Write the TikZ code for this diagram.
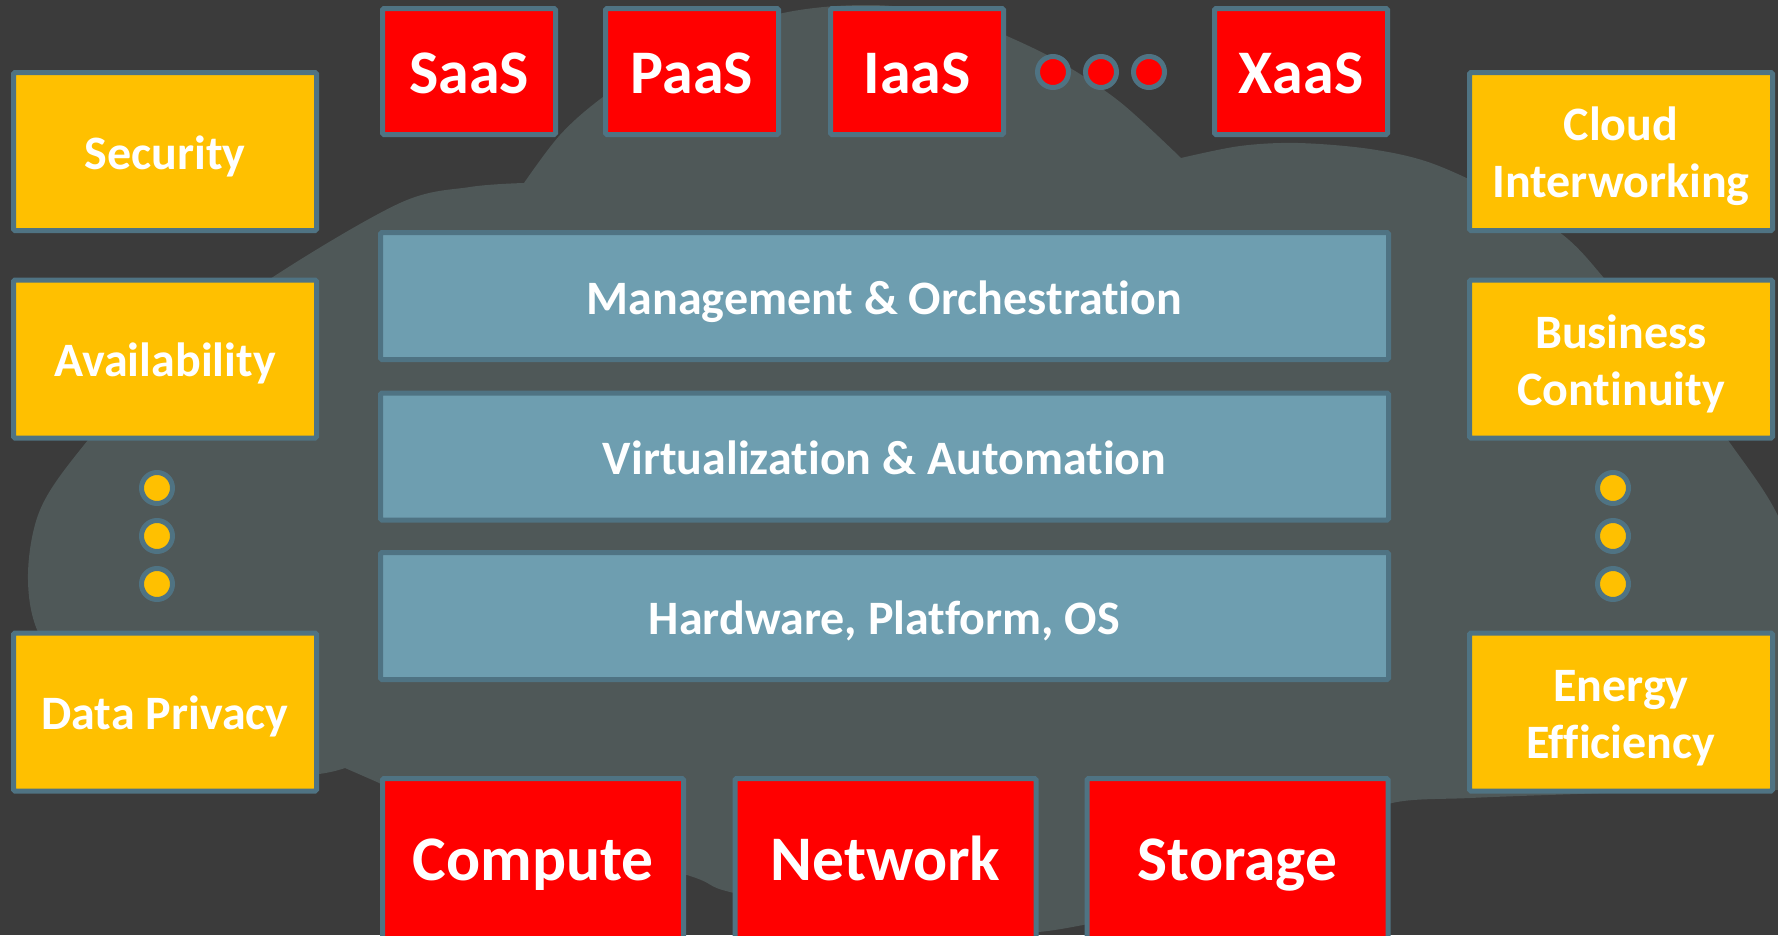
\documentclass[tikz,border=0pt]{standalone}
\usepackage{fontspec}
\setmainfont{Carlito}[Ligatures=NoCommon]
\definecolor{bg}{HTML}{3B3B3B}
\definecolor{cloudc}{HTML}{4F5858}
\definecolor{edge}{HTML}{4F7383}
\definecolor{layer}{HTML}{6E9EB0}
\definecolor{gold}{HTML}{FFC000}
\definecolor{redbox}{HTML}{FF0000}
\begin{document}
\begin{tikzpicture}[x=1pt,y=-1pt,
  box/.style={draw=edge, line width=5pt, rounded corners=1.5pt, inner sep=0pt,
    text=white, align=center, text depth=0pt},
  topbox/.style={box, fill=redbox, minimum width=173pt, minimum height=126pt,
    text height=43.5pt, font=\fontsize{62}{74}\selectfont\bfseries},
  sidebox/.style={box, fill=gold, minimum width=303pt, minimum height=158pt,
    text height=35pt, font=\fontsize{48}{57}\selectfont\bfseries},
  twoline/.style={text height=92pt},
  layerbox/.style={box, fill=layer, minimum width=1008pt, minimum height=127pt,
    text height=36.5pt, font=\fontsize{48}{57}\selectfont\bfseries},
  basebox/.style={box, fill=redbox, minimum width=301pt, minimum height=171.5pt,
    text height=46pt, text depth=14.5pt, font=\fontsize{63.5}{76}\selectfont\bfseries},
  dot/.style={circle, draw=edge, line width=5pt, minimum size=31pt, inner sep=0pt}]

\useasboundingbox (0,0) rectangle (1778,935);
\clip (0,0) rectangle (1778,935);
\fill[bg] (0,0) rectangle (1778,935);

% cloud silhouette behind the stack
\fill[cloudc]
  plot[smooth, tension=0.55] coordinates {(524,183) (560,135) (603,97) (680,45)
    (783,13) (870,5) (950,14) (1000,33) (1060,62) (1120,102) (1181,158)}
  -- plot[smooth, tension=0.55] coordinates {(1181,158) (1240,146) (1298,143)
    (1370,149) (1431,163) (1500,195) (1563,235) (1603,277) (1660,350)
    (1730,443) (1778,516) (1805,600)}
  -- (1810,790)
  -- plot[smooth, tension=0.55] coordinates {(1810,790) (1700,790) (1577,794)
    (1470,798) (1392,803) (1330,830) (1200,895) (1083,925) (1000,933)
    (860,918) (730,892) (687,875) (530,830) (400,792) (377,782) (345,768)}
  -- plot[smooth, tension=0.55] coordinates {(345,768) (319,774) (250,780)
    (150,745) (80,690) (38,632) (28,574) (40,510) (80,450) (160,360)
    (273,277) (400,203) (470,187) (524,183)}
  -- cycle;

% service models
\node[topbox] (saas) at (469,71.5) {SaaS};
\node[topbox] (paas) at (692,71.5) {PaaS};
\node[topbox] (iaas) at (917,71.5) {IaaS};
\node[dot, fill=redbox] (td1) at (1053,72) {};
\node[dot, fill=redbox] (td2) at (1101,72) {};
\node[dot, fill=redbox] (td3) at (1149,72) {};
\node[topbox] (xaas) at (1301,71.5) {XaaS};

% cross-cutting concerns, left
\node[sidebox] (security) at (165,151.5) {Security};
\node[sidebox] (avail) at (165,359) {Availability};
\node[dot, fill=gold] (ld1) at (157,488) {};
\node[dot, fill=gold] (ld2) at (157,536) {};
\node[dot, fill=gold] (ld3) at (157,584) {};
\node[sidebox] (privacy) at (165,712) {Data Privacy};

% cross-cutting concerns, right
\node[sidebox, twoline] (interwork) at (1621,151.5) {Cloud\\Interworking};
\node[sidebox, twoline] (continuity) at (1621,359) {Business\\Continuity};
\node[dot, fill=gold] (rd1) at (1613,488) {};
\node[dot, fill=gold] (rd2) at (1613,536) {};
\node[dot, fill=gold] (rd3) at (1613,584) {};
\node[sidebox, twoline] (energy) at (1621,712) {Energy\\Efficiency};

% layered stack
\node[layerbox] (mgmt) at (884.5,296) {Management \& Orchestration};
\node[layerbox] (virt) at (884.5,456.5) {Virtualization \& Automation};
\node[layerbox] (hw) at (884.5,616) {Hardware, Platform, OS};

% physical resources
\node[basebox] (compute) at (533,864.25) {Compute};
\node[basebox] (network) at (885.5,864.25) {Network};
\node[basebox] (storage) at (1237.5,864.25) {Storage};
\end{tikzpicture}
\end{document}
